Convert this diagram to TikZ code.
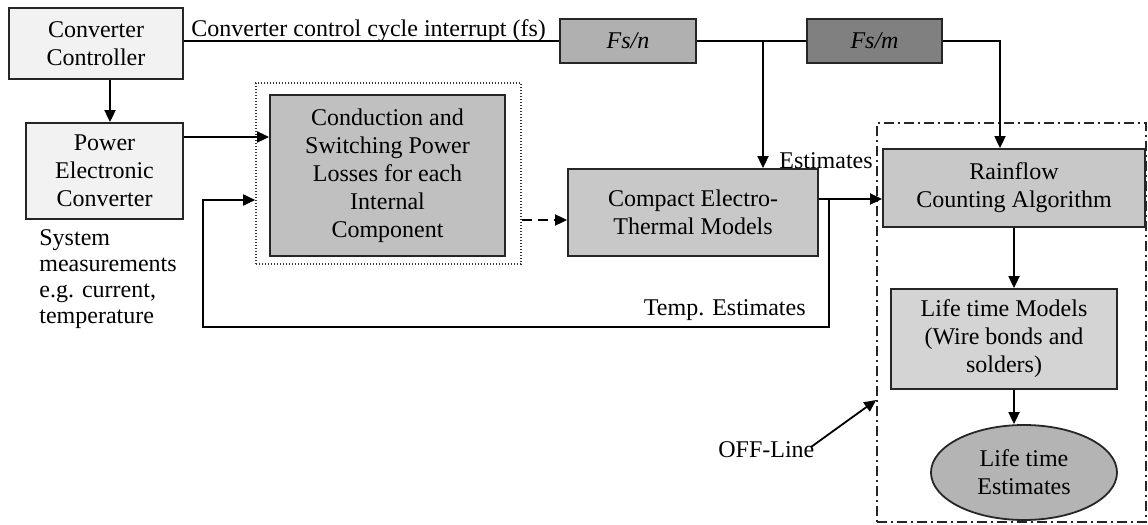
\documentclass[tikz,border=0pt]{standalone}
\usepackage{fontspec}
\setmainfont{Liberation Serif}
\usepackage{tikz}
\usetikzlibrary{arrows.meta,positioning,shapes}
\definecolor{ppale}{HTML}{F2F2F2}
\definecolor{pgray}{HTML}{C0C0C0}
\definecolor{cgray}{HTML}{C8C8C8}
\definecolor{lgray}{HTML}{D4D4D4}
\definecolor{egray}{HTML}{B4B4B4}
\definecolor{ngray}{HTML}{B0B0B0}
\definecolor{mgray}{HTML}{808080}
\tikzset{
  blk/.style={draw=black!85,line width=0.9pt,inner sep=0pt,align=center},
  arr/.style={line width=0.9pt,-{Triangle[length=6pt,width=5.5pt]}},
  wire/.style={line width=0.9pt},
  lbl/.style={inner sep=0pt}
}

\begin{document}
\begin{tikzpicture}[x=0.5pt,y=-0.5pt,font=\fontsize{12}{14}\selectfont]
\useasboundingbox (0,0) rectangle (1148,525);
% ---- left column: controller and converter ------------------------------
\node[blk,fill=ppale,minimum width=87pt,minimum height=35.5pt] (ctrl) at (96,43.5)
  {Converter\\Controller};
\node[blk,fill=ppale,minimum width=78.5pt,minimum height=48pt] (pec) at (104.5,171)
  {Power\\Electronic\\Converter};
\node[lbl,anchor=north west,align=left,font=\fontsize{12}{13}\selectfont] (sysm) at (39,229)
  {System\\measurements\\e.g. current,\\temperature};

% ---- loss and thermal models --------------------------------------------
\node[draw=black!80,line width=0.8pt,dash pattern=on 0.6pt off 0.9pt,
  minimum width=132.5pt,minimum height=90.5pt,inner sep=0pt] (loss) at (388.5,173.5) {};
\node[blk,fill=pgray,minimum width=117.5pt,minimum height=80.5pt] (cond) at (387.5,175.5)
  {Conduction and\\Switching Power\\Losses for each\\Internal\\Component};
\node[blk,fill=cgray,minimum width=125pt,minimum height=43.5pt] (cetm) at (693,212.5)
  {Compact Electro-\\Thermal Models};

% ---- clock dividers -------------------------------------------------------
\node[blk,fill=ngray,minimum width=68pt,minimum height=22pt] (fsn) at (628,41) {\textit{Fs/n}};
\node[blk,fill=mgray,minimum width=67.5pt,minimum height=22pt] (fsm) at (874.5,41) {\textit{Fs/m}};
\node[lbl,anchor=base west] (cci) at (191,36.5) {Converter control cycle interrupt (fs)};

% ---- off-line part ----------------------------------------------------------
\node[draw=black!85,line width=0.8pt,dash pattern=on 5pt off 2pt on 1pt off 2pt,
  minimum width=134.5pt,minimum height=199.5pt,inner sep=0pt] (rng) at (1011.5,322.5) {};
\node[blk,fill=cgray,minimum width=131pt,minimum height=39pt] (rain) at (1014,188)
  {Rainflow\\Counting Algorithm};
\node[blk,fill=lgray,minimum width=113pt,minimum height=50pt] (life) at (1004,339)
  {Life time Models\\(Wire bonds and\\solders)};
\node[blk,ellipse,fill=egray,minimum width=93pt,minimum height=47.5pt] (ell) at (1024,472.5)
  {Life time\\Estimates};
\node[lbl,anchor=base west] (est) at (779,168) {Estimates};
\node[lbl,anchor=base east] (temp) at (806,315) {Temp. Estimates};
\node[lbl,anchor=base west] (off) at (718,457) {OFF-Line};

% ---- connectors ---------------------------------------------------------------
\draw[wire] (ctrl.east |- fsn.west) -- (fsn.west);
\draw[wire] (fsn.east) -- (fsm.west);
\coordinate (br) at (763,41);
\draw[arr] (br) -- (br |- cetm.north);
\draw[arr] (fsm.east) -| ([xshift=-7pt]rain.north);
\draw[arr] ([xshift=7pt]ctrl.south) -- ([xshift=7pt]ctrl.south |- pec.north);
\draw[arr] ([yshift=17pt]pec.east) -- ([yshift=17pt]pec.east -| cond.west);
\draw[arr,dash pattern=on 5pt off 3pt] ([yshift=-23.25pt]loss.east)
  -- ([yshift=-23.25pt]loss.east -| cetm.west);
\draw[arr] ([yshift=6.75pt]cetm.east) -- ([yshift=6.75pt]cetm.east -| rain.west);
% temperature feedback
\coordinate (tap) at (829,199);
\coordinate (fb) at (203,327);
\draw[arr] (tap) |- (fb) |- ([yshift=-13.25pt]loss.west);
\draw[arr] (rain.south) -- (rain.south |- life.north);
\draw[arr] (rain.south |- life.south) -- (rain.south |- ell.north);
\draw[arr] ([xshift=-2pt,yshift=1pt]off.east) -- ([yshift=-38.75pt]rng.west);
\end{tikzpicture}
\end{document}
